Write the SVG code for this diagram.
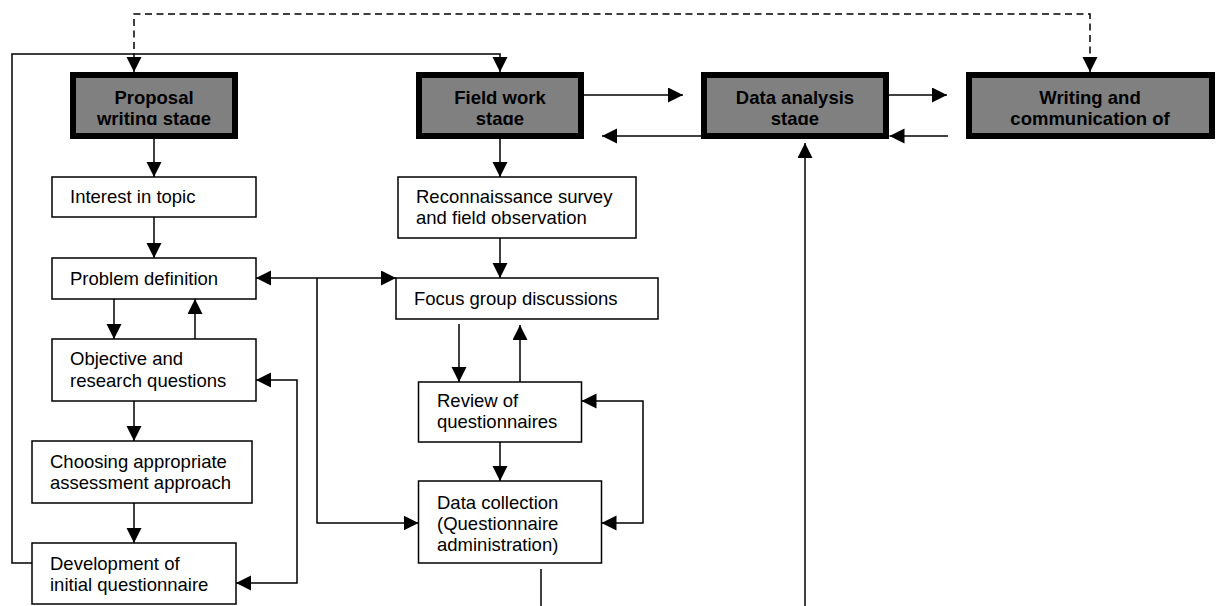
<svg xmlns="http://www.w3.org/2000/svg" width="1216" height="606" viewBox="0 0 1216 606">
<style>
.stage rect{fill:#808080;stroke:#000;stroke-width:6}
.stage text{font-family:"Liberation Sans",Arial,sans-serif;font-size:18.5px;font-weight:bold;fill:#000;text-anchor:middle}
.node rect{fill:#fff;stroke:#000;stroke-width:1.5}
.node text{font-family:"Liberation Sans",Arial,sans-serif;font-size:18.5px;fill:#000}
.conn path{fill:none;stroke:#000;stroke-width:1.5}
.a{marker-end:url(#ah)}
.b{marker-start:url(#ah);marker-end:url(#ah)}
.dash{stroke-dasharray:7 4.5}
</style>
<defs>
<marker id="ah" markerUnits="userSpaceOnUse" markerWidth="16" markerHeight="16" refX="15" refY="7.5" orient="auto-start-reverse">
<path d="M0,0 L15,7.5 L0,15 Z" fill="#000"/>
</marker>
<clipPath id="tc" clipPathUnits="userSpaceOnUse"><rect x="0" y="0" width="1216" height="125"/></clipPath>
</defs>
<rect width="1216" height="606" fill="#fff"/>

<g id="proposal" class="stage">
<rect x="73" y="75" width="162" height="61"/>
<g clip-path="url(#tc)"><text x="154" y="104">Proposal</text><text x="154" y="124.5">writing stage</text></g>
</g>
<g id="fieldwork" class="stage">
<rect x="419" y="75" width="162" height="61"/>
<g clip-path="url(#tc)"><text x="500" y="104">Field work</text><text x="500" y="124.5">stage</text></g>
</g>
<g id="dataanalysis" class="stage">
<rect x="704" y="75" width="182" height="61"/>
<g clip-path="url(#tc)"><text x="795" y="104">Data analysis</text><text x="795" y="124.5">stage</text></g>
</g>
<g id="writing" class="stage">
<rect x="969" y="75" width="243" height="61"/>
<g clip-path="url(#tc)"><text x="1090" y="104">Writing and</text><text x="1090" y="124.5">communication of</text></g>
</g>

<g id="interest" class="node">
<rect x="52" y="177" width="204" height="40"/>
<text x="70" y="203">Interest in topic</text>
</g>
<g id="problem" class="node">
<rect x="52" y="258" width="204" height="41"/>
<text x="70" y="284.5">Problem definition</text>
</g>
<g id="objective" class="node">
<rect x="52" y="339" width="204" height="62"/>
<text x="70" y="365">Objective and</text>
<text x="70" y="386.5">research questions</text>
</g>
<g id="choosing" class="node">
<rect x="32" y="441" width="220" height="62"/>
<text x="50" y="468">Choosing appropriate</text>
<text x="50" y="489">assessment approach</text>
</g>
<g id="development" class="node">
<rect x="32" y="543" width="204" height="61"/>
<text x="50" y="570">Development of</text>
<text x="50" y="590.5">initial questionnaire</text>
</g>
<g id="recon" class="node">
<rect x="398" y="177" width="238" height="61"/>
<text x="416" y="202.5">Reconnaissance survey</text>
<text x="416" y="223.5">and field observation</text>
</g>
<g id="focus" class="node">
<rect x="396" y="278" width="262" height="41"/>
<text x="414" y="304.5">Focus group discussions</text>
</g>
<g id="review" class="node">
<rect x="418.5" y="382" width="163" height="60"/>
<text x="437" y="407">Review of</text>
<text x="437" y="428">questionnaires</text>
</g>
<g id="datacollection" class="node">
<rect x="418.5" y="481" width="183" height="82"/>
<text x="437" y="508.5">Data collection</text>
<text x="437" y="529.5">(Questionnaire</text>
<text x="437" y="550.5">administration)</text>
</g>

<g id="connectors" class="conn">
<path class="b dash" d="M134,72 L134,14 L1090,14 L1090,72"/>
<path class="a" d="M32,563 L12,563 L12,54 L500,54 L500,72"/>
<path class="a" d="M154,138 L154,177"/>
<path class="a" d="M154,217 L154,258"/>
<path class="a" d="M114,299 L114,339"/>
<path class="a" d="M195,339 L195,299"/>
<path class="a" d="M134,401 L134,441"/>
<path class="a" d="M134,503 L134,543"/>
<path class="b" d="M256,380 L297,380 L297,583 L236,583"/>
<path class="b" d="M256,278 L396,278"/>
<path class="a" d="M317,278 L317,523 L418.5,523"/>
<path class="a" d="M500,138 L500,177"/>
<path class="a" d="M500,238 L500,278"/>
<path class="a" d="M459,324 L459,382"/>
<path class="a" d="M520,382 L520,325"/>
<path class="b" d="M581.5,401 L643,401 L643,523 L601.5,523"/>
<path class="a" d="M500,442 L500,481"/>
<path d="M541,569 L541,606"/>
<path class="a" d="M805,606 L805,143"/>
<path class="a" d="M584,95 L683,95"/>
<path class="a" d="M701,136 L602,136"/>
<path class="a" d="M889,95 L947,95"/>
<path class="a" d="M948,136 L889.5,136"/>
</g>
</svg>
